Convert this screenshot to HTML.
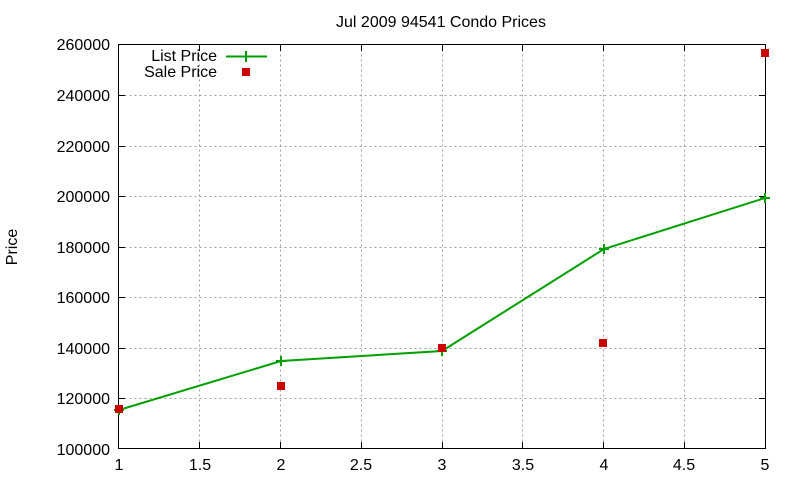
<!DOCTYPE html>
<html><head><meta charset="utf-8"><style>body{margin:0;background:#fff}svg{display:block}text{font-family:"Liberation Sans",sans-serif;fill:#000}</style></head><body>
<svg width="800" height="480" viewBox="0 0 800 480">
<text x="441" y="27" font-size="16" text-anchor="middle">Jul 2009 94541 Condo Prices</text>
<text transform="translate(17,247) rotate(-90)" font-size="16" text-anchor="middle">Price</text>
<g stroke="#a0a0a0" stroke-dasharray="2,3" stroke-width="1">
<path d="M119.5 95.5H765.5M119.5 146.5H765.5M119.5 196.5H765.5M119.5 247.5H765.5M119.5 297.5H765.5M119.5 348.5H765.5M119.5 398.5H765.5"/>
<path d="M199.5 44.5V448.5M280.5 44.5V448.5M361.5 44.5V448.5M442.5 44.5V448.5M522.5 44.5V448.5M603.5 44.5V448.5M684.5 44.5V448.5"/>
</g>
<rect x="118.5" y="44.5" width="647" height="404" fill="none" stroke="#000"/>
<g stroke="#000">
<path d="M119 95.5h6M119 146.5h6M119 196.5h6M119 247.5h6M119 297.5h6M119 348.5h6M119 398.5h6M765 95.5h-6M765 146.5h-6M765 196.5h-6M765 247.5h-6M765 297.5h-6M765 348.5h-6M765 398.5h-6"/>
<path d="M199.5 448v-6M280.5 448v-6M361.5 448v-6M442.5 448v-6M522.5 448v-6M603.5 448v-6M684.5 448v-6M199.5 45v6M280.5 45v6M361.5 45v6M442.5 45v6M522.5 45v6M603.5 45v6M684.5 45v6"/>
</g>
<g font-size="16" text-anchor="end">
<text x="110" y="50">260000</text><text x="110" y="101">240000</text><text x="110" y="152">220000</text><text x="110" y="202">200000</text><text x="110" y="253">180000</text><text x="110" y="303">160000</text><text x="110" y="354">140000</text><text x="110" y="404">120000</text><text x="110" y="455">100000</text>
</g>
<g font-size="16" text-anchor="middle">
<text x="119" y="470">1</text><text x="200" y="470">1.5</text><text x="281" y="470">2</text><text x="361" y="470">2.5</text><text x="442" y="470">3</text><text x="523" y="470">3.5</text><text x="604" y="470">4</text><text x="684" y="470">4.5</text><text x="765" y="470">5</text>
</g>
<g font-size="16" text-anchor="end"><text x="217" y="61">List Price</text><text x="217" y="77">Sale Price</text></g>
<g stroke="#00a000" stroke-width="2" fill="none">
<path d="M226 56.5H267M246 51v11"/>
<polyline points="119,410 281,361 442,351 604,249 765,198"/>
<path d="M119 405v10M114 410h10M281 356v10M276 361h10M442 346v10M437 351h10M604 244v10M599 249h10M765 193v10M760 198h10"/>
</g>
<g fill="#cc0000">
<rect x="242" y="68" width="8" height="8"/>
<rect x="115" y="405" width="8" height="8"/>
<rect x="277" y="382" width="8" height="8"/>
<rect x="438" y="344" width="8" height="8"/>
<rect x="599" y="339" width="8" height="8"/>
<rect x="761" y="49" width="8" height="8"/>
</g>
</svg>
</body></html>
